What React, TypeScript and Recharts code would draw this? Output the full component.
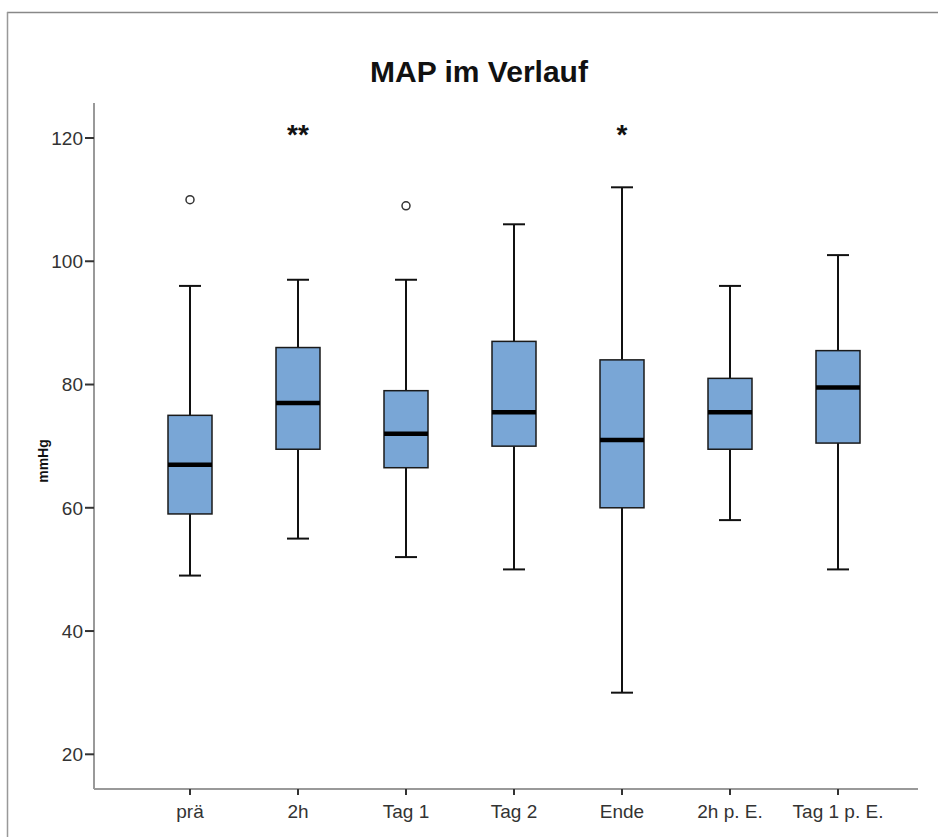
import React from 'react';
import { ComposedChart, Bar, Line, XAxis, YAxis } from 'recharts';

const categories = ['prä', '2h', 'Tag 1', 'Tag 2', 'Ende', '2h p. E.', 'Tag 1 p. E.'];
const whiskerLow = [49, 55, 52, 50, 30, 58, 50];
const q1 = [59, 69.5, 66.5, 70, 60, 69.5, 70.5];
const median = [67, 77, 72, 75.5, 71, 75.5, 79.5];
const q3 = [75, 86, 79, 87, 84, 81, 85.5];
const whiskerHigh = [96, 97, 97, 106, 112, 96, 101];
const outliers: (number | null)[] = [110, null, 109, null, null, null, null];
const significance = ['', '**', '', '', '*', '', ''];
const significanceLevel = 121.5;
const yTicks = [20, 40, 60, 80, 100, 120];

const data = categories.map((name, i) => ({
  name,
  box: [q1[i], q3[i]],
  q1: q1[i],
  q3: q3[i],
  median: median[i],
  low: whiskerLow[i],
  high: whiskerHigh[i],
  outlier: outliers[i],
  sig: significance[i] ? significanceLevel : null,
  sigText: significance[i],
}));

const FONT = '"Liberation Sans", Arial, sans-serif';

const BoxShape = (props: any) => {
  const { x, y, width, height, payload } = props;
  if (payload == null) return <g />;
  const top = Math.min(y, y + height);
  const h = Math.abs(height);
  const ppu = h / (payload.q3 - payload.q1);
  const toY = (v: number) => top + (payload.q3 - v) * ppu;
  const cx = x + width / 2;
  const capHalf = 11;
  const yHigh = toY(payload.high);
  const yLow = toY(payload.low);
  const yMed = toY(payload.median);
  return (
    <g>
      <line x1={cx} x2={cx} y1={yHigh} y2={top} stroke="#111" strokeWidth={2} />
      <line x1={cx} x2={cx} y1={top + h} y2={yLow} stroke="#111" strokeWidth={2} />
      <line x1={cx - capHalf} x2={cx + capHalf} y1={yHigh} y2={yHigh} stroke="#111" strokeWidth={2} />
      <line x1={cx - capHalf} x2={cx + capHalf} y1={yLow} y2={yLow} stroke="#111" strokeWidth={2} />
      <rect x={x} y={top} width={width} height={h} fill="#79a6d6" stroke="#1a1a1a" strokeWidth={1.5} />
      <line x1={x} x2={x + width} y1={yMed} y2={yMed} stroke="#000" strokeWidth={4.5} />
    </g>
  );
};

const OutlierDot = (props: any) => {
  const { cx, cy, value, index } = props;
  if (value == null || cy == null || isNaN(cy)) return <g key={`o${index}`} />;
  return <circle key={`o${index}`} cx={cx} cy={cy} r={4} fill="#fff" stroke="#333" strokeWidth={1.5} />;
};

const SigDot = (props: any) => {
  const { cx, cy, value, index, payload } = props;
  if (value == null || cy == null || isNaN(cy)) return <g key={`s${index}`} />;
  return (
    <text key={`s${index}`} x={cx} y={cy + 15} textAnchor="middle" fontFamily={FONT} fontWeight="bold" fontSize={28} fill="#111">
      {payload.sigText}
    </text>
  );
};

export default function App() {
  return (
    <div style={{ position: 'absolute', left: 0, top: 0, width: 938, height: 837, background: '#fff' }}>
      <ComposedChart
        width={938}
        height={837}
        data={data}
        margin={{ top: 103, right: 20, bottom: 0, left: 0 }}
      >
        <XAxis
          dataKey="name"
          type="category"
          height={48}
          padding={{ left: 42, right: 26 }}
          axisLine={{ stroke: '#999', strokeWidth: 2 }}
          tickLine={{ stroke: '#333', strokeWidth: 2 }}
          tickSize={6}
          tickMargin={10}
          tick={{ fontFamily: FONT, fontSize: 19, fill: '#333' }}
          interval={0}
        />
        <YAxis
          type="number"
          width={94}
          domain={[14.37, 125.68]}
          ticks={yTicks}
          allowDataOverflow
          axisLine={{ stroke: '#999', strokeWidth: 2 }}
          tickLine={{ stroke: '#333', strokeWidth: 2 }}
          tickSize={9}
          tickMargin={2}
          tick={{ fontFamily: FONT, fontSize: 19, fill: '#333' }}
        />
        <Bar dataKey="box" barSize={44} shape={BoxShape} isAnimationActive={false} />
        <Line dataKey="outlier" stroke="none" dot={OutlierDot} activeDot={false} isAnimationActive={false} legendType="none" />
        <Line dataKey="sig" stroke="none" dot={SigDot} activeDot={false} isAnimationActive={false} legendType="none" />
      </ComposedChart>
      <svg width={938} height={837} style={{ position: 'absolute', left: 0, top: 0, pointerEvents: 'none' }}>
        <line x1={7} x2={938} y1={12.5} y2={12.5} stroke="#888" strokeWidth={1.5} />
        <line x1={7.5} x2={7.5} y1={12} y2={837} stroke="#999" strokeWidth={1.5} />
        <text x={479} y={82} textAnchor="middle" fontFamily={FONT} fontWeight="bold" fontSize={30} fill="#111">
          MAP im Verlauf
        </text>
        <text
          x={48}
          y={461}
          transform="rotate(-90 48 461)"
          textAnchor="middle"
          fontFamily={FONT}
          fontWeight="bold"
          fontSize={14}
          fill="#111"
        >
          mmHg
        </text>
      </svg>
    </div>
  );
}
